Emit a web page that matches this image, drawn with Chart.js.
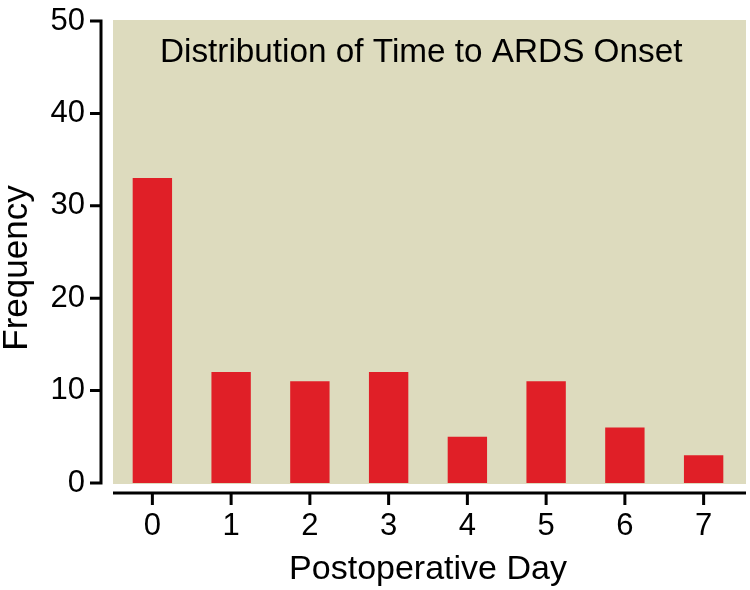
<!DOCTYPE html>
<html>
<head>
<meta charset="utf-8">
<script src="https://cdn.jsdelivr.net/npm/chart.js@4.4.0/dist/chart.umd.min.js"></script>
<style>
  body { margin: 0; background: #ffffff; }
  #wrap { width: 750px; height: 590px; }
</style>
</head>
<body>
<div id="wrap"><canvas id="myChart" width="750" height="590"></canvas></div>
<script>
'use strict';
let days = ['0', '1', '2', '3', '4', '5', '6', '7'];
let counts = [33, 12, 11, 12, 5, 11, 6, 3];
let yTicks = [0, 10, 20, 30, 40, 50];
let chartTitle = 'Distribution of Time to ARDS Onset';
let xTitle = 'Postoperative Day';
let yTitle = 'Frequency';

let fontName = '"Liberation Sans", Arial, sans-serif';

// background of the plot area and the detached axes
let framePlugin = {
    id: 'frame',
    beforeDatasetsDraw(chart) {
        let ctx = chart.ctx;
        let a = chart.chartArea;
        ctx.save();
        ctx.fillStyle = '#dddbbe';
        ctx.fillRect(a.left, a.top - 1, a.right - a.left + 3, a.bottom - a.top + 2);
        ctx.restore();
    },
    afterDraw(chart) {
        let ctx = chart.ctx;
        let a = chart.chartArea;
        let x = chart.scales.x;
        let y = chart.scales.y;
        ctx.save();
        ctx.strokeStyle = '#000';
        ctx.lineWidth = 3;
        ctx.lineCap = 'butt';
        // y axis
        let ax = a.left - 12;
        ctx.beginPath();
        ctx.moveTo(ax, y.getPixelForValue(50) - 1.5);
        ctx.lineTo(ax, y.getPixelForValue(0) + 1.5);
        for (let i = 0; i < yTicks.length; i++) {
            let py = y.getPixelForValue(yTicks[i]);
            ctx.moveTo(ax, py);
            ctx.lineTo(ax - 11, py);
        }
        ctx.stroke();
        // x axis
        let ay = a.bottom + 10;
        ctx.beginPath();
        ctx.moveTo(a.left, ay);
        ctx.lineTo(a.right + 3, ay);
        for (let i = 0; i < days.length; i++) {
            let px = x.getPixelForValue(i);
            ctx.moveTo(px, ay);
            ctx.lineTo(px, ay + 12);
        }
        ctx.stroke();
        // title inside the plot
        ctx.fillStyle = '#000';
        ctx.font = '33.3px ' + fontName;
        ctx.textAlign = 'left';
        ctx.textBaseline = 'alphabetic';
        ctx.fillText(chartTitle, 160, 62);
        // y title
        ctx.font = '35px ' + fontName;
        ctx.translate(27, 268);
        ctx.rotate(-Math.PI / 2);
        ctx.textAlign = 'center';
        ctx.fillText(yTitle, 0, 0);
        ctx.restore();
    }
};

let ctx = document.getElementById('myChart').getContext('2d');
let chart = new Chart(ctx, {
    type: 'bar',
    data: {
        labels: days,
        datasets: [{
            label: 'Frequency',
            data: counts,
            backgroundColor: '#e01f27',
            borderWidth: 0,
            barPercentage: 0.5,
            categoryPercentage: 1.0
        }]
    },
    options: {
        responsive: false,
        animation: false,
        layout: { padding: { top: 21, right: 7, bottom: 0, left: 0 } },
        plugins: {
            legend: { display: false },
            tooltip: { enabled: false }
        },
        scales: {
            x: {
                grid: { display: false, drawTicks: false },
                border: { display: false },
                ticks: {
                    color: '#000',
                    padding: 25,
                    font: { family: fontName, size: 31 }
                },
                title: {
                    display: true,
                    text: xTitle,
                    color: '#000',
                    padding: { top: 6, bottom: 0 },
                    font: { family: fontName, size: 34 }
                },
                afterFit(s) { s.height = 107; s.paddingLeft = 0; s.paddingRight = 0; }
            },
            y: {
                min: 0,
                max: 50,
                grid: { display: false, drawTicks: false },
                border: { display: false },
                afterBuildTicks(s) { s.ticks = yTicks.map(v => ({ value: v })); },
                ticks: {
                    color: '#000',
                    padding: 28,
                    font: { family: fontName, size: 31 }
                },
                afterFit(s) { s.width = 113; s.paddingTop = 0; s.paddingBottom = 0; }
            }
        }
    },
    plugins: [framePlugin]
});
</script>
</body>
</html>
